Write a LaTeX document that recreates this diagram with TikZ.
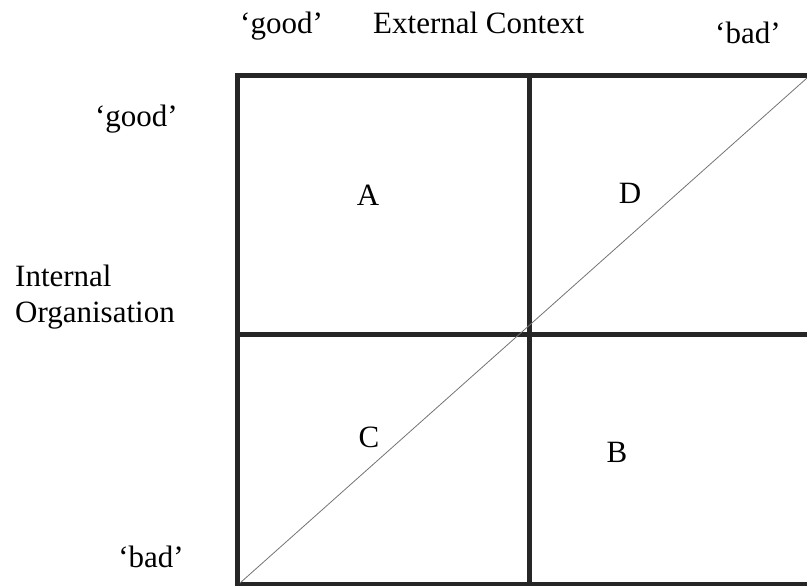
\documentclass[tikz,border=0pt]{standalone}
\usepackage{fontspec}
\setmainfont{Liberation Serif}
\begin{document}
\begin{tikzpicture}[x=1pt,y=-1pt,
    txt/.style={font=\fontsize{31}{36}\selectfont,inner sep=0pt,anchor=base},
    bar/.style={line width=5pt,color=black!85},
    diag/.style={line width=0.8pt,color=black!55}]
  \useasboundingbox (0,0) rectangle (807,586);

  % the two by two grid, open on the right
  \draw [bar] (807,76) -- (237,76) -- (237,586);
  \draw [bar] (237,584) -- (807,584);
  \draw [bar] (529,76) -- (529,586);
  \draw [bar] (237,334) -- (807,334);
  \draw [diag] (240,583) -- (807,78);

  % headings
  \node [txt,anchor=base west] (topgood) at (240,34) {‘good’};
  \node [txt,anchor=base west] (ext) at (373,34) {External Context};
  \node [txt,anchor=base west] (topbad) at (715,44) {‘bad’};
  \node [txt,anchor=base east] (leftgood) at (178,127) {‘good’};
  \node [txt,anchor=base west,align=left] (int) at (15,322) {Internal\\Organisation};
  \node [txt] (leftbad) at (151,567) {‘bad’};

  % quadrants
  \node [txt] (qa) at (368,205) {A};
  \node [txt] (qd) at (630,203) {D};
  \node [txt] (qc) at (369,447) {C};
  \node [txt] (qb) at (617,462) {B};
\end{tikzpicture}
\end{document}
